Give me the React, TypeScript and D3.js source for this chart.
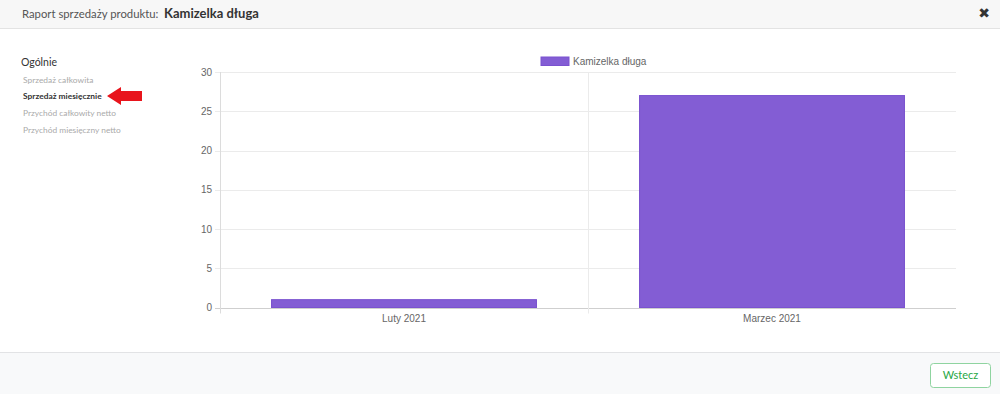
import React from "react";
import * as d3 from "d3";

const categories = ["Luty 2021", "Marzec 2021"];
const values = [1, 27];
const yTicks = [0, 5, 10, 15, 20, 25, 30];
const seriesName = "Kamizelka długa";
const menuItems = ["Sprzedaż całkowita", "Sprzedaż miesięcznie", "Przychód całkowity netto", "Przychód miesięczny netto"];
const activeItem = 1;

export default function App() {
  const W = 1000, H = 394;
  const left = 220, right = 956, top = 72, bottom = 307.5;
  const x = d3.scaleBand<string>().domain(categories).range([left, right]).paddingInner(0).paddingOuter(0);
  const y = d3.scaleLinear().domain([0, 30]).range([bottom, top]);
  const bw = x.bandwidth() * 0.72;
  const chartFont = "'Liberation Sans', Arial, sans-serif";
  const uiFont = "Lato, 'Open Sans', sans-serif";
  return (
    <svg width={W} height={H} style={{ position: "absolute", left: 0, top: 0 }}>
      <rect x={0} y={0} width={W} height={H} fill="#fff" />
      {/* header */}
      <rect x={0} y={0} width={W} height={28} fill="#f7f7f7" />
      <line x1={0} x2={W} y1={28.5} y2={28.5} stroke="#e3e3e3" />
      <text x={22} y={17.5} fontFamily={uiFont} fontSize={11.3} fill="#555" textAnchor="start">Raport sprzedaży produktu:</text>
      <text x={164} y={17.5} fontFamily={uiFont} fontSize={13} fontWeight="bold" fill="#333" textAnchor="start">Kamizelka długa</text>
      <text x={984} y={18} fontFamily={"'DejaVu Sans', sans-serif"} fontSize={14} fontWeight="bold" fill="#333" textAnchor="middle">✖</text>
      {/* sidebar */}
      <text x={21} y={66} fontFamily={uiFont} fontSize={10.5} fill="#333">Ogólnie</text>
      {menuItems.map((m, i) => (
        <text key={m} x={23} y={82.5 + i * 16.8} fontFamily={uiFont} fontSize={8.4}
          fontWeight={i === activeItem ? "bold" : "normal"} fill={i === activeItem ? "#333" : "#aaa"}>{m}</text>
      ))}
      <path d="M107,96 L121,87 L121,91 L142,91 L142,101 L121,101 L121,105 Z" fill="#e8141c" />
      {/* gridlines */}
      {yTicks.map(t => (
        <g key={t}>
          <line x1={left - 5} x2={right} y1={Math.round(y(t)) + 0.5} y2={Math.round(y(t)) + 0.5}
            stroke={t === 0 ? "#cfcfcf" : "#ebebeb"} />
          <text x={left - 8} y={y(t) + 3.5} textAnchor="end" fontFamily={chartFont} fontSize={10} fill="#666">{t}</text>
        </g>
      ))}
      <line x1={left + 0.5} x2={left + 0.5} y1={top} y2={bottom + 6} stroke="#dcdcdc" />
      {categories.slice(1).map(c => (
        <line key={c} x1={(x(c) as number) + 0.5} x2={(x(c) as number) + 0.5} y1={top} y2={bottom + 6} stroke="#ebebeb" />
      ))}
      {/* bars */}
      {categories.map((c, i) => {
        const cx = (x(c) as number) + x.bandwidth() / 2;
        return (
          <g key={c}>
            <rect x={cx - bw / 2} y={y(values[i])} width={bw} height={bottom - y(values[i])}
              fill="#835dd4" stroke="#7a52cf" strokeWidth={1} />
            <text x={cx} y={322} textAnchor="middle" fontFamily={chartFont} fontSize={10} fill="#666">{c}</text>
          </g>
        );
      })}
      {/* legend */}
      <rect x={541} y={57} width={28} height={8.5} fill="#835dd4" stroke="#7a52cf" />
      <text x={573} y={64.5} fontFamily={chartFont} fontSize={10} fill="#666">{seriesName}</text>
      {/* footer */}
      <rect x={0} y={352} width={W} height={H - 352} fill="#f8f9fa" />
      <line x1={0} x2={W} y1={352.5} y2={352.5} stroke="#e2e3e5" />
      <rect x={930.5} y={363.5} width={60} height={24} rx={3} fill="#fff" stroke="#8fd4a0" />
      <text x={960.5} y={379} textAnchor="middle" fontFamily={uiFont} fontSize={11} fill="#28a745">Wstecz</text>
    </svg>
  );
}
